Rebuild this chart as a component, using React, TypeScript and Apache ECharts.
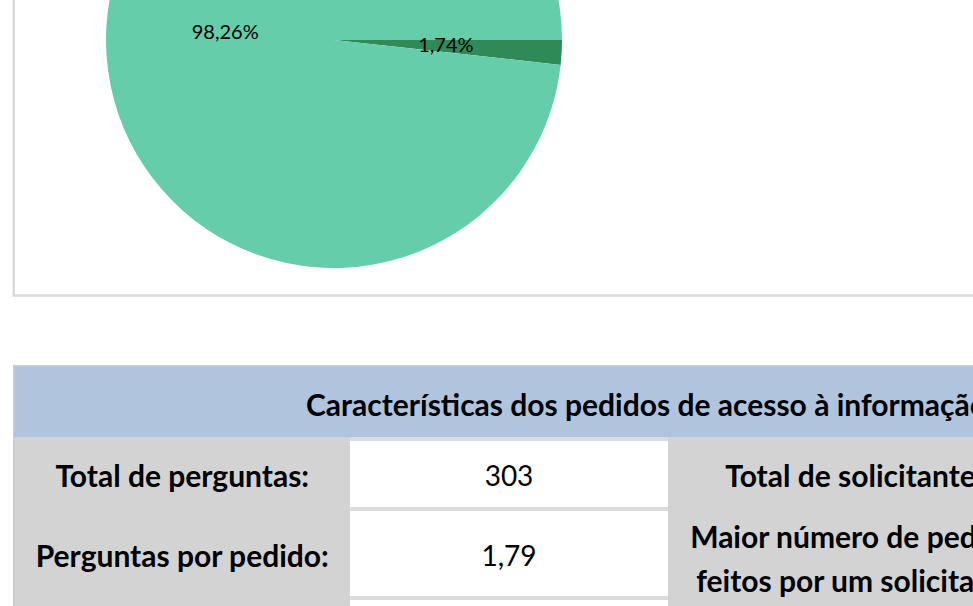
import React, { useEffect, useRef } from "react";
import * as echarts from "echarts";

const pieNames = ["Grupo menor", "Grupo maior"];
const pieValues = [1.74, 98.26];
const pieColors = ["#2E8B57", "#66CDAA"];
const pieLabelOffsets = [[-5, -2], [8, -3]];

const tableTitle = "Características dos pedidos de acesso à informação";
const rowLabels = ["Total de perguntas:", "Perguntas por pedido:", ""];
const rowValues = ["303", "1,79", ""];
const rowLabels2 = ["Total de solicitantes:", "Maior número de pedidos\nfeitos por um solicitante:", ""];

const FONT = "Lato, 'Open Sans', sans-serif";

export default function App() {
  const ref = useRef<HTMLDivElement>(null);
  useEffect(() => {
    if (!ref.current) return;
    const chart = echarts.init(ref.current, undefined, { renderer: "svg" });

    const rowTops = [441, 511, 600];
    const rowBottoms = [507, 596, 690];
    const col1 = [14.5, 350];
    const col2 = [350, 668];
    const col3 = [668, 1060];

    const graphics: any[] = [];
    graphics.push({
      type: "rect",
      shape: { x: 13.75, y: -30, width: 1000, height: 325.5 },
      style: { fill: "none", stroke: "#D9D9D9", lineWidth: 2.5 },
      z: 10,
    });
    graphics.push({
      type: "rect",
      shape: { x: 13, y: 365, width: 1000, height: 300 },
      style: { fill: "#C9C9C9" },
    });
    graphics.push({
      type: "rect",
      shape: { x: 14.5, y: 366.5, width: 1000, height: 300 },
      style: { fill: "#DCDCDC" },
    });
    graphics.push({
      type: "rect",
      shape: { x: 14.5, y: 366.5, width: 1000, height: 70.5 },
      style: { fill: "#B0C4DE" },
    });
    graphics.push({
      type: "text",
      x: 306,
      y: 404,
      style: {
        text: tableTitle,
        font: `bold 30px ${FONT}`,
        fill: "#000",
        textAlign: "left",
        textVerticalAlign: "middle",
        align: "left",
        verticalAlign: "middle",
      },
    });
    graphics.push({
      type: "rect",
      shape: { x: col1[0], y: 437, width: col1[1] - col1[0], height: 300 },
      style: { fill: "#D3D3D3" },
    });
    graphics.push({
      type: "rect",
      shape: { x: col3[0], y: 437, width: col3[1] - col3[0], height: 300 },
      style: { fill: "#D3D3D3" },
    });
    rowLabels.forEach((lab, i) => {
      const top = rowTops[i];
      const bottom = rowBottoms[i];
      const cy = (top + bottom) / 2;
      graphics.push({
        type: "rect",
        shape: { x: col2[0], y: top, width: col2[1] - col2[0], height: bottom - top },
        style: { fill: "#FFFFFF" },
      });
      if (lab) {
        graphics.push({
          type: "text",
          x: (col1[0] + col1[1]) / 2,
          y: cy + 1,
          style: {
            text: lab,
            font: `bold 30px ${FONT}`,
            fill: "#000",
            textAlign: "center",
            textVerticalAlign: "middle",
            align: "center",
            verticalAlign: "middle",
          },
        });
      }
      if (rowValues[i]) {
        graphics.push({
          type: "text",
          x: (col2[0] + col2[1]) / 2,
          y: cy + 1,
          style: {
            text: rowValues[i],
            font: `28px ${FONT}`,
            fill: "#000",
            textAlign: "center",
            textVerticalAlign: "middle",
            align: "center",
            verticalAlign: "middle",
          },
        });
      }
      if (rowLabels2[i]) {
        graphics.push({
          type: "text",
          x: 861,
          y: cy + (i === 1 ? 4.5 : 1),
          style: {
            text: rowLabels2[i],
            font: `bold 30px ${FONT}`,
            lineHeight: 44,
            fill: "#000",
            textAlign: "center",
            textVerticalAlign: "middle",
            align: "center",
            verticalAlign: "middle",
          },
        });
      }
    });

    chart.setOption({
      animation: false,
      backgroundColor: "#FFFFFF",
      graphic: { elements: graphics },
      series: [
        {
          type: "pie",
          center: [334, 40],
          radius: 228,
          startAngle: 0,
          clockwise: true,
          color: pieColors,
          label: {
            show: true,
            position: "inside",
            color: "#000",
            fontFamily: FONT,
            fontSize: 20,
            formatter: (p: any) => p.value.toFixed(2).replace(".", ",") + "%",
          },
          labelLine: { show: false },
          emphasis: { disabled: true },
          data: pieNames.map((n, i) => ({
            name: n,
            value: pieValues[i],
            label: { offset: pieLabelOffsets[i] },
          })),
        },
      ],
    });
    return () => chart.dispose();
  }, []);
  return (
    <div
      ref={ref}
      style={{ position: "fixed", left: 0, top: 0, width: 973, height: 606 }}
    />
  );
}
